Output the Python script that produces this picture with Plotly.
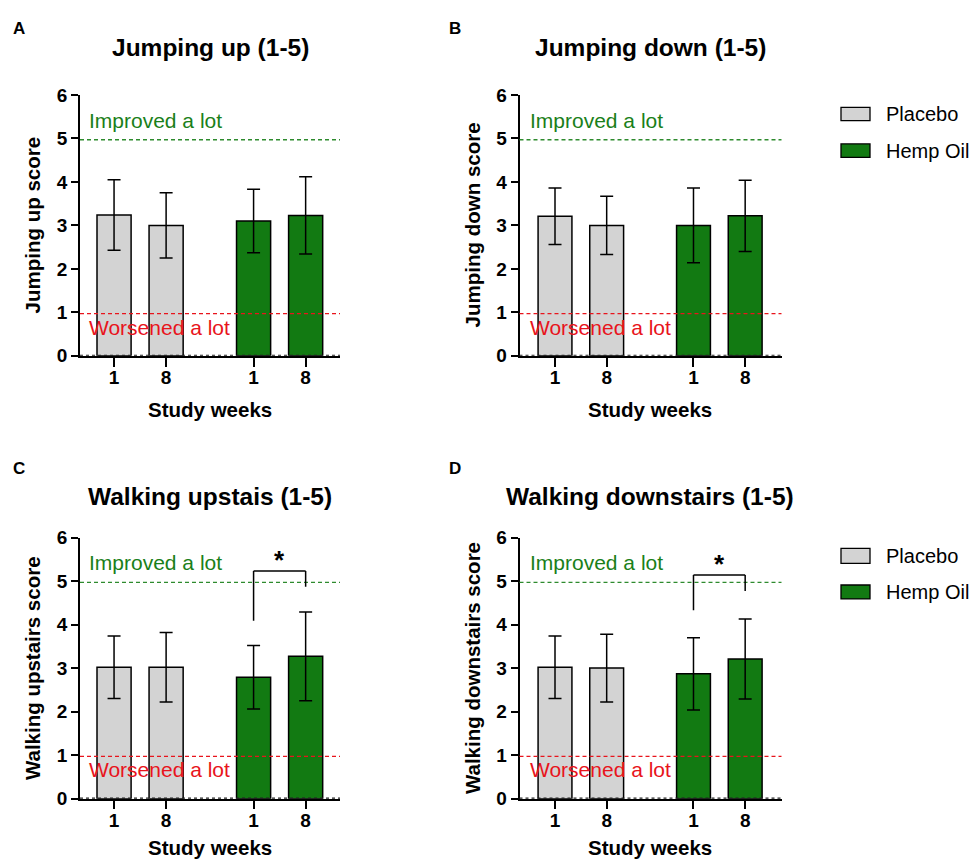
import plotly.graph_objects as go

# ---------------- data ----------------
weeks = ["1", "8"]
groups = ["Placebo", "Hemp Oil"]
panel_letters = ["A", "B", "C", "D"]
panel_titles = ["Jumping up (1-5)", "Jumping down (1-5)",
                "Walking upstais (1-5)", "Walking downstairs (1-5)"]
y_titles = ["Jumping up score", "Jumping down score",
            "Walking upstairs score", "Walking downstairs score"]
x_title = "Study weeks"

# order within each panel: Placebo wk1, Placebo wk8, Hemp wk1, Hemp wk8
jump_up_mean = [3.24, 3.00, 3.10, 3.23]
jump_up_sd = [0.81, 0.75, 0.73, 0.89]
jump_down_mean = [3.21, 3.00, 3.00, 3.22]
jump_down_sd = [0.65, 0.67, 0.86, 0.82]
walk_up_mean = [3.02, 3.02, 2.79, 3.27]
walk_up_sd = [0.72, 0.80, 0.73, 1.02]
walk_down_mean = [3.02, 3.00, 2.87, 3.21]
walk_down_sd = [0.72, 0.78, 0.83, 0.92]

improved_level = 4.97
worsened_level = 0.97
improved_label = "Improved a lot"
worsened_label = "Worsened a lot"

# significance brackets (Hemp wk1 vs wk8): left foot, top, right foot
sig_walk_up = [4.09, 5.23, 4.87]
sig_walk_down = [4.33, 5.14, 4.77]
sig_label = "*"

means = [jump_up_mean, jump_down_mean, walk_up_mean, walk_down_mean]
sds = [jump_up_sd, jump_down_sd, walk_up_sd, walk_down_sd]
sigs = [None, None, sig_walk_up, sig_walk_down]

# ---------------- style ----------------
W, H = 974, 861
FONT = "Liberation Sans, Arial, Helvetica, sans-serif"
GRAY = "#D3D3D3"
GREEN = "#127A12"
GREEN_LINE = "#2E8B2E"
GREEN_TXT = "#1A7F1A"
RED = "#E8141C"
colors = [GRAY, GREEN]

col_px = [(80, 340), (519.5, 781.5)]
row_px = [(94.3, 355.5), (537.5, 799)]
x_ranges = [[0.346, 5.34], [0.313, 5.383]]
group_gap = 2.68
bar_w = 0.655


def px(x):
    return x / W


def ys(y):
    # empirical vertical correction of the rendered picture
    return (y - 9.2) / 0.977


def py(y):
    return 1 - ys(y) / H


fig = go.Figure()
shapes = []
annotations = []

for i in range(4):
    r, c = divmod(i, 2)
    n = "" if i == 0 else str(i + 1)
    xa, ya = "x" + n, "y" + n
    xd = [px(col_px[c][0]), px(col_px[c][1])]
    yd = [py(row_px[r][1]), py(row_px[r][0])]

    positions = []
    for gi, g in enumerate(groups):
        xs = [1 + gi * group_gap + wi for wi in range(len(weeks))]
        positions += xs
        fig.add_trace(go.Bar(
            x=xs,
            y=means[i][gi * 2:gi * 2 + 2],
            width=bar_w,
            marker=dict(color=colors[gi], line=dict(color="black", width=1.5)),
            error_y=dict(type="data", array=sds[i][gi * 2:gi * 2 + 2],
                         color="black", thickness=1.5, width=6.5),
            name=g, showlegend=False,
            xaxis=xa, yaxis=ya,
        ))

    fig.layout["xaxis" + n] = dict(
        domain=xd, anchor=ya, range=x_ranges[c],
        tickmode="array", tickvals=positions, ticktext=weeks * 2,
        ticks="outside", ticklen=9, tickwidth=1.5, tickcolor="black",
        tickfont=dict(family=FONT, size=19, color="black", weight="bold"),
        showline=True, linecolor="black", linewidth=1.6,
        showgrid=False, zeroline=False, fixedrange=True,
    )
    fig.layout["yaxis" + n] = dict(
        domain=yd, anchor=xa, range=[0, 6],
        tickmode="array", tickvals=[0, 1, 2, 3, 4, 5, 6],
        ticks="outside", ticklen=7, tickwidth=1.5, tickcolor="black",
        tickfont=dict(family=FONT, size=19, color="black", weight="bold"),
        showline=True, linecolor="black", linewidth=1.5,
        showgrid=False, zeroline=False, fixedrange=True,
    )

    # dotted baseline over the x axis
    shapes.append(dict(type="line", xref=xa + " domain", yref=ya,
                       x0=0, x1=1, y0=0, y1=0,
                       line=dict(color="#222222", width=2.2, dash="dot"),
                       layer="above"))
    # reference lines
    shapes.append(dict(type="line", xref=xa + " domain", yref=ya,
                       x0=0, x1=1, y0=improved_level, y1=improved_level,
                       line=dict(color=GREEN_LINE, width=1.3, dash="4px,3px"),
                       layer="above"))
    shapes.append(dict(type="line", xref=xa + " domain", yref=ya,
                       x0=0, x1=1, y0=worsened_level, y1=worsened_level,
                       line=dict(color=RED, width=1.3, dash="4px,3px"),
                       layer="above"))
    annotations.append(dict(text=improved_label, xref=xa + " domain", yref=ya,
                            x=0.025 + 0.007 * c, y=improved_level, xanchor="left", yanchor="bottom",
                            yshift=6, showarrow=False,
                            font=dict(family=FONT, size=21, color=GREEN_TXT)))
    annotations.append(dict(text=worsened_label, xref=xa + " domain", yref=ya,
                            x=0.025 + 0.007 * c, y=worsened_level, xanchor="left", yanchor="top",
                            yshift=0, showarrow=False,
                            font=dict(family=FONT, size=21, color=RED)))

    # significance bracket
    if sigs[i] is not None:
        left, top, right = sigs[i]
        xl, xr = positions[2], positions[3]
        lw = dict(color="black", width=1.5)
        shapes.append(dict(type="line", xref=xa, yref=ya, x0=xl, x1=xl, y0=left, y1=top, line=lw))
        shapes.append(dict(type="line", xref=xa, yref=ya, x0=xl, x1=xr, y0=top, y1=top, line=lw))
        shapes.append(dict(type="line", xref=xa, yref=ya, x0=xr, x1=xr, y0=top, y1=right, line=lw))
        annotations.append(dict(text="<b>" + sig_label + "</b>", xref=xa, yref=ya,
                                x=(xl + xr) / 2, y=top, yanchor="bottom", yshift=-6,
                                showarrow=False,
                                font=dict(family=FONT, size=26, color="black")))

    # panel title, letter, axis titles
    title_x = [210, 650][c]
    annotations.append(dict(text="<b>" + panel_titles[i] + "</b>", xref="paper", yref="paper",
                            x=px(title_x), y=py([47, 496][r]),
                            xanchor="center", yanchor="middle", showarrow=False,
                            font=dict(family=FONT, size=24.5, color="black")))
    annotations.append(dict(text="<b>" + panel_letters[i] + "</b>", xref="paper", yref="paper",
                            x=px(11 + c * 436), y=py([27.5, 468.5][r]),
                            xanchor="left", yanchor="middle", showarrow=False,
                            font=dict(family=FONT, size=17, color="black")))
    annotations.append(dict(text="<b>" + y_titles[i] + "</b>", xref="paper", yref="paper",
                            x=px(32 + c * 440), y=py((row_px[r][0] + row_px[r][1]) / 2),
                            xanchor="center", yanchor="middle", textangle=-90, showarrow=False,
                            font=dict(family=FONT, size=20.5, color="black")))
    annotations.append(dict(text="<b>" + x_title + "</b>", xref="paper", yref="paper",
                            x=px(title_x), y=py([409, 847.5][r]),
                            xanchor="center", yanchor="middle", showarrow=False,
                            font=dict(family=FONT, size=20.5, color="black")))

# custom legends (top row and bottom row)
legend_rows = [[(106.7, 120.0), (143.3, 156.7)], [(548.3, 563.3), (585.0, 599.0)]]
for rows in legend_rows:
    for gi, g in enumerate(groups):
        y0, y1 = rows[gi]
        shapes.append(dict(type="rect", xref="paper", yref="paper",
                           x0=px(841), x1=px(870), y0=py(y1), y1=py(y0),
                           fillcolor=colors[gi], line=dict(color="black", width=1.3)))
        annotations.append(dict(text=g, xref="paper", yref="paper",
                                x=px(884), y=py((y0 + y1) / 2), xanchor="left", yanchor="middle",
                                showarrow=False,
                                font=dict(family=FONT, size=20, color="black")))

fig.update_layout(
    width=W, height=H,
    margin=dict(l=0, r=0, t=0, b=0),
    paper_bgcolor="white", plot_bgcolor="white",
    barmode="overlay",
    shapes=shapes, annotations=annotations,
    showlegend=False,
)

# pull x tick labels a little closer to the axis, as in the reference
try:
    fig.update_xaxes(ticklabelstandoff=-5)
except Exception:
    pass

fig.write_html("out.html")
